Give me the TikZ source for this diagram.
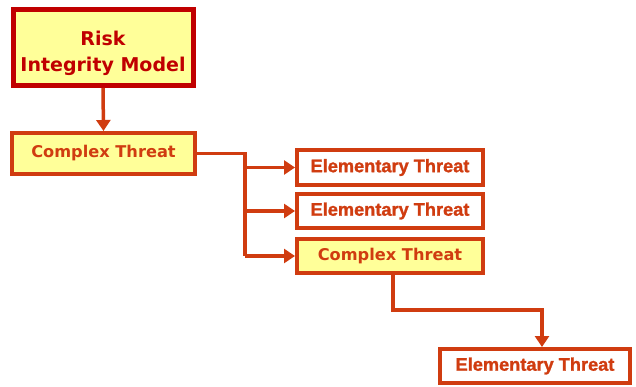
\documentclass[tikz,border=0pt]{standalone}
\usepackage{fontspec}
\setmainfont{DejaVu Sans}
\newfontfamily\elemfont[FakeBold=1.3]{Liberation Sans}
\usetikzlibrary{arrows.meta}
\definecolor{darkred}{RGB}{192,0,0}
\definecolor{orangered}{RGB}{208,60,16}
\definecolor{paleyellow}{RGB}{255,255,153}
\newcommand{\twoline}[2]{\raisebox{-10.5pt}[0pt][0pt]{\begin{tabular}{@{}c@{}}#1\\[3pt]#2\end{tabular}}}
\tikzset{
  x=1pt, y=-1pt,
  rootbox/.style={draw=darkred, line width=5pt, fill=paleyellow, text=darkred,
    font=\bfseries\fontsize{19}{23}\selectfont, inner sep=0pt},
  complexbox/.style={draw=orangered, line width=4pt, fill=paleyellow, text=orangered,
    font=\bfseries\fontsize{16.2}{18}\selectfont, inner sep=0pt},
  elembox/.style={draw=orangered, line width=4pt, fill=white, text=orangered,
    font=\elemfont\bfseries\fontsize{18.2}{19}\selectfont, inner sep=0pt},
  link/.style={draw=orangered, line width=3.5pt,
    -{Triangle[length=11pt,width=14pt]}},
  linkplain/.style={draw=orangered, line width=3.5pt},
}
\begin{document}
\begin{tikzpicture}
\useasboundingbox (0,0) rectangle (636,387);
% nodes (sized by their outer border)
\node[rootbox, minimum width=180pt, minimum height=76pt] (risk) at (103,47.5) {\twoline{Risk}{Integrity Model}};
\node[complexbox, minimum width=183pt, minimum height=41pt] (c1) at (103.5,153.5) {Complex Threat};
\node[elembox, minimum width=186pt, minimum height=35pt] (e1) at (390,167.5) {Elementary Threat};
\node[elembox, minimum width=186pt, minimum height=34pt] (e2) at (390,211) {Elementary Threat};
\node[complexbox, minimum width=186pt, minimum height=34pt] (c2) at (390,256) {Complex Threat};
\node[elembox, minimum width=190pt, minimum height=34pt] (e3) at (535,366) {Elementary Threat};
% connectors
\coordinate (split) at (245,153.5);
\draw[link] (risk.south) -- (c1.north);
\draw[linkplain] (c1.east) -- (split) -- (245,256);
\draw[link] (245,167.5) -- (e1.west);
\draw[link] (245,211) -- (e2.west);
\draw[link] (245,256) -- (c2.west);
\draw[link] (c2.south -| 393,0) -- (393,310) -| (e3.north -| 542,0);
\end{tikzpicture}
\end{document}
